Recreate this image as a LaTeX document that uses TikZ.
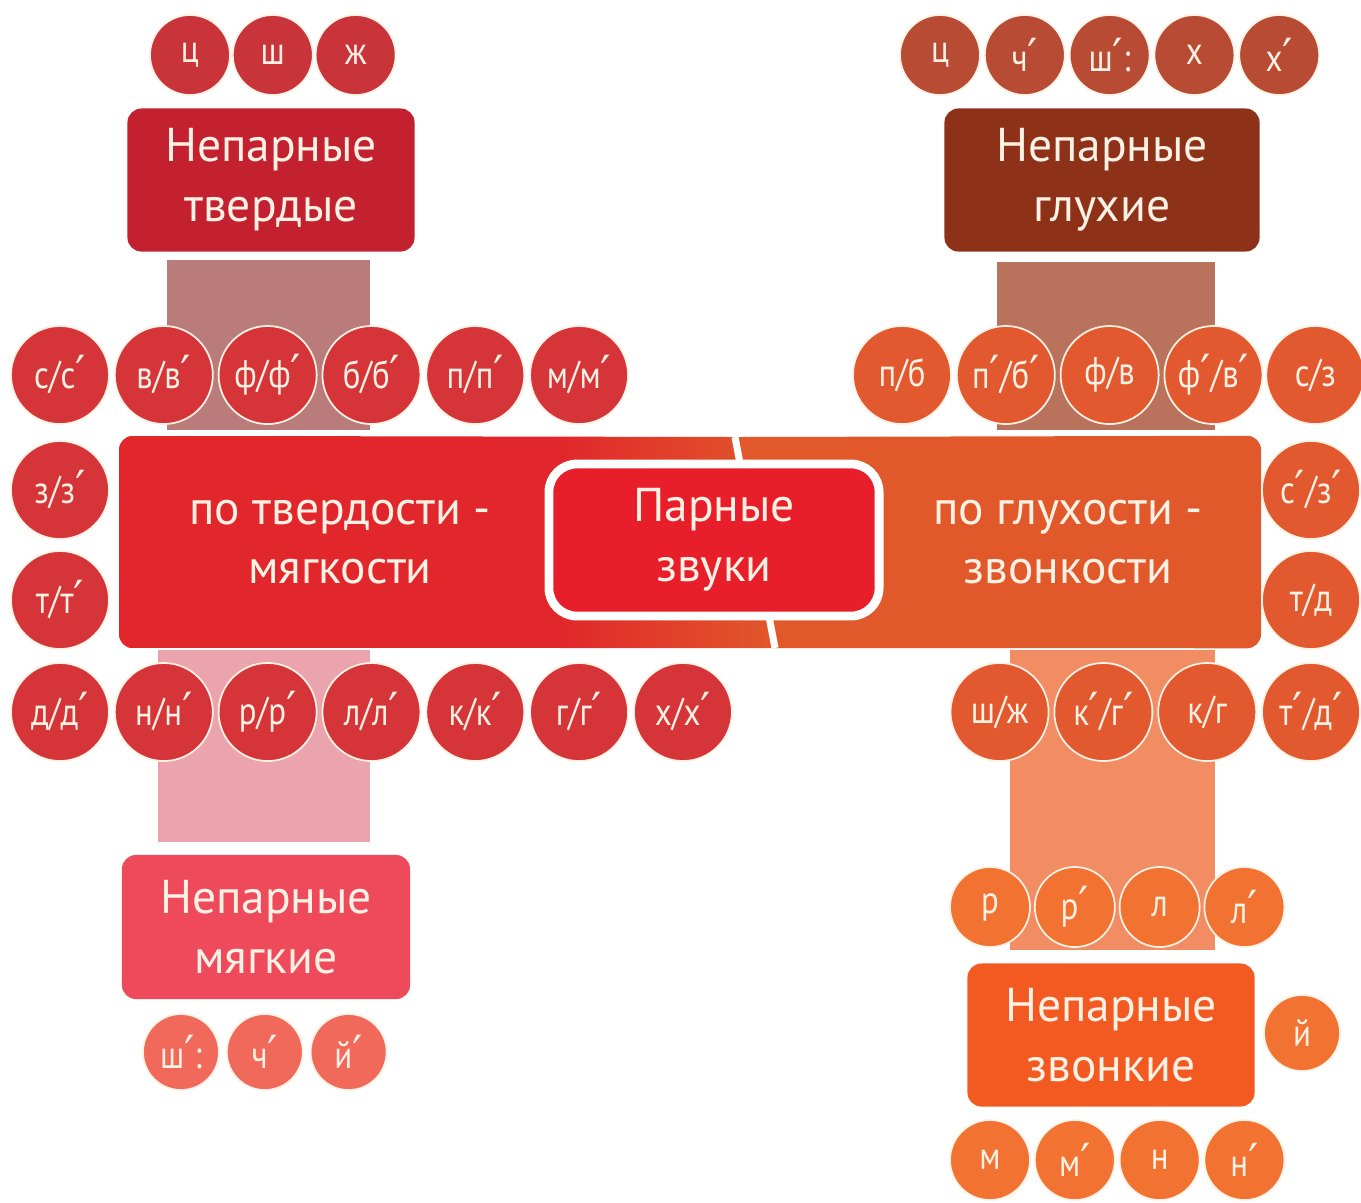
\documentclass[tikz,border=0pt]{standalone}
\usepackage{fontspec}
\setmainfont{PT Sans}
\newfontfamily\dotfont[FakeStretch=0.85]{PT Sans}
\newfontfamily\primefont{DejaVu Sans}
\newcommand{\pr}{{\primefont\fontsize{13}{12}\selectfont ′}}
\usetikzlibrary{positioning}

\definecolor{cream}{HTML}{FFF1E4}
\definecolor{tvRed}{HTML}{C42130}
\definecolor{tvDot}{HTML}{C9343A}
\definecolor{tvLink}{HTML}{B97C7A}
\definecolor{glBrown}{HTML}{8E3119}
\definecolor{glDot}{HTML}{B84B33}
\definecolor{glLink}{HTML}{B9725C}
\definecolor{mainRed}{HTML}{E1272B}
\definecolor{mainOrange}{HTML}{E1592A}
\definecolor{pairRed}{HTML}{E91E2B}
\definecolor{rowRed}{HTML}{D53538}
\definecolor{rowOrange}{HTML}{E2582F}
\definecolor{mjPink}{HTML}{EF4A5B}
\definecolor{mjDot}{HTML}{F0695A}
\definecolor{mjLink}{HTML}{EBA3AD}
\definecolor{zvOrange}{HTML}{F25A22}
\definecolor{zvDot}{HTML}{F27231}
\definecolor{zvLink}{HTML}{F28C62}

\begin{document}
\begin{tikzpicture}[
    x=0.01cm, y=-0.01cm,
    node distance=0.04cm,
    snd/.style={circle, draw=cream, line width=0.5pt, inner sep=0pt,
                minimum size=0.98cm, text=cream, font=\dotfont\fontsize{11}{12}\selectfont},
    sndsm/.style={snd, minimum size=0.8cm},
    grpbox/.style={rounded corners=4pt, align=center, inner sep=0pt, text=cream,
                   font=\fontsize{13.5}{17}\selectfont}
    ]
    \useasboundingbox (0,0) rectangle (1361,1202);

    % link bars behind the rows
    \fill[tvLink] (167,260) rectangle (370,430);
    \fill[glLink] (997,262) rectangle (1215,430);
    \fill[mjLink] (158,650) rectangle (370,842);
    \fill[zvLink] (1010,650) rectangle (1215,950);

    % main bar: hard/soft on the left, voiceless/voiced on the right
    \node[minimum width=11.4cm, minimum height=2.11cm, inner sep=0pt] (pair) at (690,542) {};
    \coordinate (cutT) at (735,437);
    \coordinate (cutB) at (775,648);
    \begin{scope}
        \clip[rounded corners=4pt] (pair.north west) rectangle (pair.south east);
        \fill[mainOrange] (cutT) -- (pair.north east) -- (pair.south east) -- (cutB) -- cycle;
        \begin{scope}
            \clip (pair.north west) -- (cutT) -- (cutB) -- (pair.south west) -- cycle;
            \fill[mainRed] (pair.north west) rectangle (pair.south east);
            \shade[left color=mainRed, right color=mainOrange] (560,437) rectangle (780,648);
        \end{scope}
    \end{scope}
    \draw[white, line width=2pt] (cutT) -- (cutB);

    \node[grpbox] (tvmj) at (340,542) {по твердости -\\мягкости};
    \node[grpbox] (glzv) at (1068,542) {по глухости -\\звонкости};
    \node[grpbox, fill=pairRed, draw=white, line width=2.5pt, rounded corners=8pt,
          minimum width=3.3cm, minimum height=1.52cm] (pairs) at (714,540) {Парные\\звуки};

    % unpaired groups
    \node[grpbox, fill=tvRed, minimum width=2.87cm, minimum height=1.43cm] (tvbox) at (271,180) {Непарные\\твердые};
    \node[grpbox, fill=glBrown, minimum width=3.15cm, minimum height=1.43cm] (glbox) at (1102,180) {Непарные\\глухие};
    \node[grpbox, fill=mjPink, minimum width=2.88cm, minimum height=1.44cm] (mjbox) at (266,927) {Непарные\\мягкие};
    \node[grpbox, fill=zvOrange, minimum width=2.87cm, minimum height=1.43cm] (zvbox) at (1111,1035) {Непарные\\звонкие};

    % hard only
    \node[sndsm, fill=tvDot] (tc) at (190,55) {ц};
    \node[sndsm, fill=tvDot, right=0.01cm of tc] (tsh) {ш};
    \node[sndsm, fill=tvDot, right=0.01cm of tsh] (tzh) {ж};

    % voiceless only
    \node[sndsm, fill=glDot] (gc) at (940,55) {ц};
    \node[sndsm, fill=glDot, right=0.03cm of gc] (gch) {ч\pr};
    \node[sndsm, fill=glDot, right=0.03cm of gch] (gshch) {ш\pr:};
    \node[sndsm, fill=glDot, right=0.03cm of gshch] (gh) {х};
    \node[sndsm, fill=glDot, right=0.03cm of gh] (ghh) {х\pr};

    % hard/soft pairs
    \node[snd, fill=rowRed] (ss) at (60,375) {с/с\pr};
    \node[snd, fill=rowRed, right=of ss] (vv) {в/в\pr};
    \node[snd, fill=rowRed, right=of vv] (ff) {ф/ф\pr};
    \node[snd, fill=rowRed, right=of ff] (bb) {б/б\pr};
    \node[snd, fill=rowRed, right=of bb] (pp) {п/п\pr};
    \node[snd, fill=rowRed, right=of pp] (mm) {м/м\pr};
    \node[snd, fill=rowRed] (zz) at (60,490) {з/з\pr};
    \node[snd, fill=rowRed] (tt) at (60,600) {т/т\pr};
    \node[snd, fill=rowRed] (dd) at (60,712) {д/д\pr};
    \node[snd, fill=rowRed, right=of dd] (nn) {н/н\pr};
    \node[snd, fill=rowRed, right=of nn] (rr) {р/р\pr};
    \node[snd, fill=rowRed, right=of rr] (ll) {л/л\pr};
    \node[snd, fill=rowRed, right=of ll] (kk) {к/к\pr};
    \node[snd, fill=rowRed, right=of kk] (gg) {г/г\pr};
    \node[snd, fill=rowRed, right=of gg] (hh) {х/х\pr};

    % voiceless/voiced pairs
    \node[snd, fill=rowOrange] (pb) at (902,375) {п/б};
    \node[snd, fill=rowOrange, right=of pb] (pbs) {п\pr/б\pr};
    \node[snd, fill=rowOrange, right=of pbs] (fv) {ф/в};
    \node[snd, fill=rowOrange, right=of fv] (fvs) {ф\pr/в\pr};
    \node[snd, fill=rowOrange, right=0.02cm of fvs] (sz) {с/з};
    \node[snd, fill=rowOrange] (szs) at (1311,490) {с\pr/з\pr};
    \node[snd, fill=rowOrange] (td) at (1311,600) {т/д};
    \node[snd, fill=rowOrange] (tds) at (1311,712) {т\pr/д\pr};
    \node[snd, fill=rowOrange, left=of tds] (kg) {к/г};
    \node[snd, fill=rowOrange, left=of kg] (kgs) {к\pr/г\pr};
    \node[snd, fill=rowOrange, left=of kgs] (shzh) {ш/ж};

    % soft only
    \node[sndsm, fill=mjDot, minimum size=0.76cm] (mshch) at (181,1052) {ш\pr:};
    \node[sndsm, fill=mjDot, minimum size=0.76cm, right=0.06cm of mshch] (mch) {ч\pr};
    \node[sndsm, fill=mjDot, minimum size=0.76cm, right=0.06cm of mch] (mj) {й\pr};

    % voiced only
    \node[sndsm, fill=zvDot] (zr) at (990,907) {р};
    \node[sndsm, fill=zvDot, right=0.03cm of zr] (zrs) {р\pr};
    \node[sndsm, fill=zvDot, right=0.03cm of zrs] (zl) {л};
    \node[sndsm, fill=zvDot, right=0.03cm of zl] (zls) {л\pr};
    \node[sndsm, fill=zvDot, minimum size=0.76cm] (zj) at (1302,1033) {й};
    \node[sndsm, fill=zvDot] (zm) at (990,1160) {м};
    \node[sndsm, fill=zvDot, right=0.03cm of zm] (zms) {м\pr};
    \node[sndsm, fill=zvDot, right=0.03cm of zms] (zn) {н};
    \node[sndsm, fill=zvDot, right=0.03cm of zn] (zns) {н\pr};
\end{tikzpicture}
\end{document}
